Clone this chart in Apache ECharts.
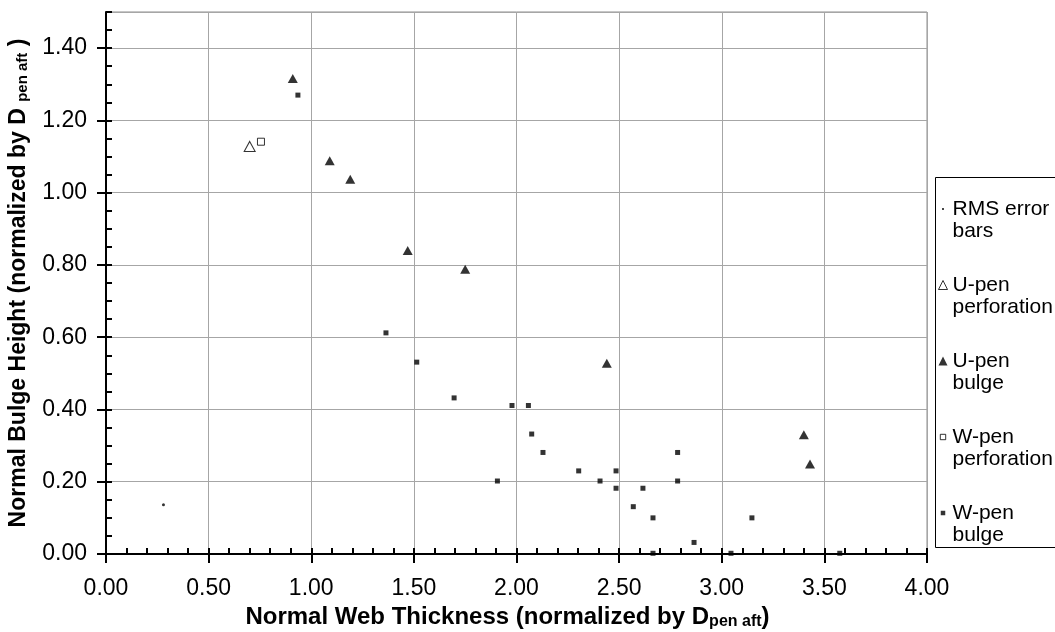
<!DOCTYPE html>
<html>
<head>
<meta charset="utf-8">
<script src="https://cdn.jsdelivr.net/npm/echarts@6/dist/echarts.min.js"></script>
<style>
  html, body { margin: 0; padding: 0; background: #fff; }
  #chart { width: 1055px; height: 632px; }
</style>
</head>
<body>
<div id="chart"></div>
<script>
// values
const rmsX = [0.28]
const rmsY = [0.136]

const uPerfX = [0.70]
const uPerfY = [1.128]

const uBulgeX = [0.91, 1.09, 1.19, 1.47, 1.75, 2.44, 3.40, 3.43]
const uBulgeY = [1.316, 1.088, 1.037, 0.840, 0.788, 0.528, 0.330, 0.249]

const wPerfX = [0.755]
const wPerfY = [1.141]

const wBulgeX = [0.935, 1.364, 1.514, 1.696, 1.907, 1.978, 2.058, 2.074, 2.129, 2.303, 2.407,
  2.485, 2.485, 2.569, 2.616, 2.665, 2.665, 2.785, 2.785, 2.865, 3.045, 3.147, 3.575]
const wBulgeY = [1.270, 0.612, 0.531, 0.432, 0.202, 0.411, 0.411, 0.332, 0.281, 0.230, 0.202,
  0.230, 0.182, 0.131, 0.182, 0.100, 0.002, 0.281, 0.202, 0.032, 0.002, 0.100, 0.002]

const xTicks = { min: 0, max: 4, step: 0.5, minor: 0.1 }
const yTicks = { min: 0, max: 1.5, step: 0.2, minor: 0.05 }

const legendNames = ['RMS error bars', 'U-pen perforation', 'U-pen bulge', 'W-pen perforation', 'W-pen bulge']

function pairs(xs, ys) {
  return xs.map((x, i) => [x, ys[i]])
}

const font = 'Liberation Sans, Arial, sans-serif'

const chart = echarts.init(document.getElementById('chart'))

const baseAxis = {
  type: 'value',
  axisLine: { show: true, lineStyle: { color: '#000', width: 2 } },
  axisTick: { show: true, length: 9, lineStyle: { color: '#000', width: 2 } },
  axisLabel: {
    color: '#000',
    fontSize: 23,
    fontFamily: font,
    formatter: v => v.toFixed(2)
  },
  splitLine: { show: true, lineStyle: { color: '#a6a6a6', width: 1 } }
}

// second axis only draws the small inner ticks
const minorAxis = {
  type: 'value',
  axisLine: { show: false },
  axisTick: { show: true, inside: true, length: 6, lineStyle: { color: '#000', width: 2 } },
  axisLabel: { show: false },
  splitLine: { show: false }
}

chart.setOption({
  animation: false,
  grid: {
    left: 106,
    right: 128,
    top: 12,
    bottom: 78,
    outerBoundsMode: 'none',
    show: true,
    borderColor: '#8c8c8c',
    borderWidth: 1
  },
  xAxis: [
    Object.assign({}, baseAxis, {
      min: xTicks.min,
      max: xTicks.max,
      interval: xTicks.step,
      position: 'bottom',
      axisLabel: Object.assign({}, baseAxis.axisLabel, { margin: 23 }),
      name: 'Normal Web Thickness (normalized by D{sub|pen aft})',
      nameLocation: 'middle',
      nameGap: 49,
      nameTextStyle: {
        color: '#000',
        fontSize: 24,
        fontWeight: 'bold',
        fontFamily: font,
        padding: [0, 18, 0, 0],
        rich: {
          sub: { fontSize: 16, fontWeight: 'bold', fontFamily: font, padding: [10, 0, 0, 0] }
        }
      }
    }),
    Object.assign({}, minorAxis, {
      min: xTicks.min,
      max: xTicks.max,
      interval: xTicks.minor,
      position: 'bottom'
    })
  ],
  yAxis: [
    Object.assign({}, baseAxis, {
      min: yTicks.min,
      max: yTicks.max,
      interval: yTicks.step,
      position: 'left',
      axisLabel: Object.assign({}, baseAxis.axisLabel, {
        margin: 19,
        showMaxLabel: false
      }),
      name: 'Normal Bulge Height (normalized by D {sub|pen aft} )',
      nameLocation: 'middle',
      nameGap: 76,
      nameTextStyle: {
        color: '#000',
        fontSize: 23,
        fontWeight: 'bold',
        fontFamily: font,
        rich: {
          sub: { fontSize: 15, fontWeight: 'bold', fontFamily: font, padding: [8, 0, 0, 0] }
        }
      }
    }),
    Object.assign({}, minorAxis, {
      min: yTicks.min,
      max: yTicks.max,
      interval: yTicks.minor,
      position: 'left'
    })
  ],
  graphic: [{
    type: 'rect',
    shape: { x: 935.5, y: 177.5, width: 140, height: 370 },
    style: { fill: '#fff', stroke: '#000', lineWidth: 1 },
    z: 1
  }],
  legend: {
    orient: 'vertical',
    left: 938,
    top: 176,
    padding: 0,
    itemGap: 10,
    itemWidth: 9,
    itemHeight: 9,
    z: 5,
    textStyle: {
      color: '#000',
      fontSize: 21,
      fontFamily: font,
      lineHeight: 22
    },
    // blank first line keeps the marker level with the first line of text
    formatter: name => ' \n' + name.replace(/ (bars|perforation|bulge)$/, '\n$1'),
    data: [
      { name: legendNames[0], icon: 'path://M0,0M10,10M4,4h2v2h-2z', itemStyle: { color: '#000' } },
      { name: legendNames[1], icon: 'triangle', itemStyle: { color: '#fff', borderColor: '#000', borderWidth: 1 } },
      { name: legendNames[2], icon: 'triangle', itemStyle: { color: '#000' } },
      { name: legendNames[3], icon: 'path://M0,0M10,10M2,2h6v6h-6z', itemStyle: { color: '#fff', borderColor: '#000', borderWidth: 1 } },
      { name: legendNames[4], icon: 'path://M0,0M10,10M2.5,2.5h5v5h-5z', itemStyle: { color: '#000' } }
    ]
  },
  series: [
    {
      name: legendNames[0],
      type: 'scatter',
      data: pairs(rmsX, rmsY),
      symbol: 'circle',
      symbolSize: 3,
      itemStyle: { color: '#000' }
    },
    {
      name: legendNames[1],
      type: 'scatter',
      data: pairs(uPerfX, uPerfY),
      symbol: 'triangle',
      symbolSize: [11, 10],
      itemStyle: { color: '#fff', borderColor: '#000', borderWidth: 1 }
    },
    {
      name: legendNames[2],
      type: 'scatter',
      data: pairs(uBulgeX, uBulgeY),
      symbol: 'triangle',
      symbolSize: [10, 9],
      itemStyle: { color: '#000' }
    },
    {
      name: legendNames[3],
      type: 'scatter',
      data: pairs(wPerfX, wPerfY),
      symbol: 'rect',
      symbolSize: 7,
      itemStyle: { color: '#fff', borderColor: '#000', borderWidth: 1 }
    },
    {
      name: legendNames[4],
      type: 'scatter',
      data: pairs(wBulgeX, wBulgeY),
      symbol: 'rect',
      symbolSize: 5,
      itemStyle: { color: '#000' }
    }
  ]
})
</script>
</body>
</html>
